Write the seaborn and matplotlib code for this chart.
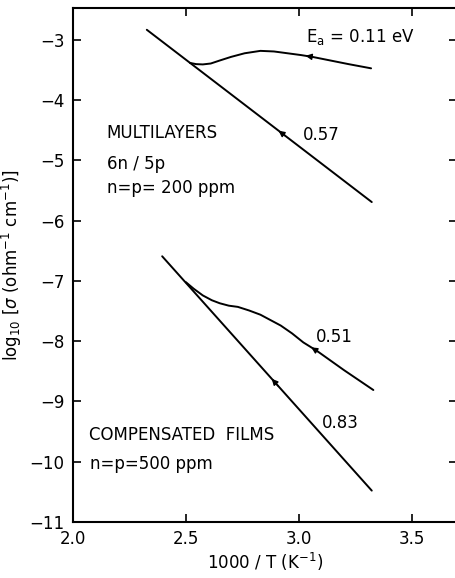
import numpy as np
import pandas as pd
import matplotlib
matplotlib.use("Agg")
import matplotlib.pyplot as plt
import seaborn as sns

# --- data (x = 1000/T, y = log10 sigma) ---
ml_line_x = [2.327, 3.323]
ml_line_y = [-2.83, -5.69]

ml_curve_x = [2.518, 2.545, 2.575, 2.61, 2.65, 2.70, 2.76, 2.83, 2.89, 2.95, 3.01, 3.06, 3.14, 3.22, 3.32]
ml_curve_y = [-3.38, -3.40, -3.405, -3.39, -3.34, -3.28, -3.22, -3.18, -3.19, -3.22, -3.25, -3.28, -3.34, -3.40, -3.47]

cf_line_x = [2.395, 3.323]
cf_line_y = [-6.59, -10.48]

cf_curve_x = [2.50, 2.535, 2.575, 2.615, 2.65, 2.69, 2.73, 2.78, 2.83, 2.87, 2.92, 2.97, 3.02, 3.08, 3.20, 3.33]
cf_curve_y = [-7.02, -7.13, -7.24, -7.32, -7.37, -7.41, -7.43, -7.49, -7.56, -7.64, -7.74, -7.87, -8.02, -8.16, -8.48, -8.81]

# arrow positions (x on each curve)
arrow_x = {"ml_line": 2.94, "ml_curve": 3.06, "cf_line": 2.91, "cf_curve": 3.085}

energy_labels = ["$\\mathsf{E_a}$ = 0.11 eV", "0.57", "0.51", "0.83"]
energy_pos_x = [3.03, 3.02, 3.075, 3.10]
energy_pos_y = [-2.95, -4.58, -7.93, -9.35]

x_ticks = [2.0, 2.5, 3.0, 3.5]
y_ticks = [-3, -4, -5, -6, -7, -8, -9, -10, -11]

curves = {
    "ml_line": (ml_line_x, ml_line_y),
    "ml_curve": (ml_curve_x, ml_curve_y),
    "cf_line": (cf_line_x, cf_line_y),
    "cf_curve": (cf_curve_x, cf_curve_y),
}

sns.set_style("ticks")
plt.rcParams["font.family"] = ["DejaVu Sans"]
plt.rcParams["text.color"] = "black"
plt.rcParams["axes.labelcolor"] = "black"
plt.rcParams["xtick.color"] = "black"
plt.rcParams["ytick.color"] = "black"

fig = plt.figure(figsize=(4.56, 5.78), dpi=100)
ax = fig.add_axes([0.160, 0.097, 0.842, 0.889])

for name, (xs, ys) in curves.items():
    df = pd.DataFrame({"x": xs, "y": ys})
    sns.lineplot(data=df, x="x", y="y", sort=False, color="black", lw=1.4, ax=ax)
    # small arrowhead pointing toward lower 1000/T
    xa = arrow_x[name]
    ya = np.interp(xa, xs, ys)
    xb = xa - 0.03
    yb = np.interp(xb, xs, ys)
    ax.annotate("", xy=(xb, yb), xytext=(xa, ya),
                arrowprops=dict(arrowstyle="-|>", color="black", lw=1.0,
                                mutation_scale=9, shrinkA=0, shrinkB=0))

for lab, lx, ly in zip(energy_labels, energy_pos_x, energy_pos_y):
    ax.text(lx, ly, lab, fontsize=12, va="center", ha="left")

ax.text(2.146, -4.55, "MULTILAYERS", fontsize=12, va="center")
ax.text(2.15, -5.05, "6n / 5p", fontsize=12, va="center")
ax.text(2.15, -5.46, "n=p= 200 ppm", fontsize=12, va="center")
ax.text(2.07, -9.56, "COMPENSATED  FILMS", fontsize=12, va="center")
ax.text(2.075, -10.03, "n=p=500 ppm", fontsize=12, va="center")

ax.set_xlim(2.0, 3.7)
ax.set_ylim(-11, -2.47)
ax.set_xticks(x_ticks)
ax.set_xticklabels([f"{t:.1f}" for t in x_ticks])
ax.set_yticks(y_ticks)
ax.set_yticklabels([f"\u2212{abs(t)}" for t in y_ticks])
ax.tick_params(direction="in", top=True, right=True, labeltop=False,
               labelright=False, length=6, width=1.2, labelsize=12, pad=6,
               color="black", labelcolor="black")
for s in ax.spines.values():
    s.set_linewidth(1.5)
    s.set_color("black")

ax.set_xlabel("1000 / T (K$^{-1}$)", fontsize=12, labelpad=2)
ax.set_ylabel("log$_{10}$ [$\\sigma$ (ohm$^{-1}$ cm$^{-1}$)]", fontsize=12, labelpad=4)

fig.savefig("out.png", dpi=100)
